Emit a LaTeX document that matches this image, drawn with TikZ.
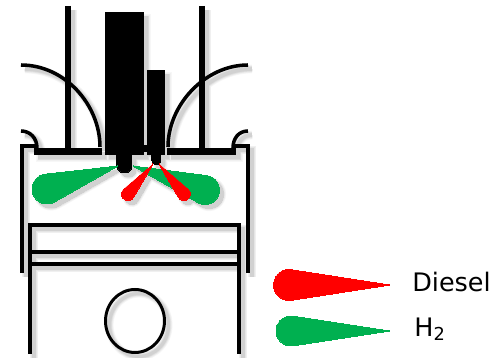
\documentclass[tikz,border=0pt]{standalone}
\usepackage{fontspec}
\setmainfont{DejaVu Sans}
\definecolor{FuelGreen}{HTML}{00B050}
\definecolor{FuelRed}{HTML}{FF0000}
\newcommand{\plume}[6]{%
  \pgfmathsetmacro{\plen}{veclen(#2-#4,#3-#5)}
  \pgfmathsetmacro{\pang}{atan2(#3-#5,#2-#4)}
  \pgfmathsetmacro{\pbeta}{acos(#6/\plen)}
  \draw[#1,shift={(#4,#5)},rotate=\pang] (\plen,0) -- (\pbeta:#6)
    arc[start angle=\pbeta,end angle=360-\pbeta,radius=#6] -- cycle;}
\newcommand{\engine}{%
  % valves and ports
  \draw[stem] (68,352) -- (68,206);
  \draw[stem] (202,352) -- (202,206);
  \draw[wall] (21,293) .. controls (65,293) and (100,253) .. (100,211);
  \draw[wall] (248,293) .. controls (205,293) and (168,253) .. (168,211);
  \draw[wall] (21,227) .. controls (30,227) and (37,220) .. (37,210);
  \draw[wall] (248,227) .. controls (239,227) and (233,220) .. (233,210);
  \draw[solidpart] (35,203) rectangle (102,209);
  \draw[solidpart] (168,203) rectangle (236,209);
  % injectors
  \draw[solidpart] (105.5,203) rectangle (144,345);
  \draw[solidpart] (148,203) rectangle (165,287);
  \draw[solidpart] (144,206) rectangle (148,212);
  \draw[solidpart] (117,206) -- (117,192.5) arc[start angle=180,end angle=360,radius=7.5] -- (132,206) -- cycle;
  \draw[solidpart] (152,206) -- (152,197.5) arc[start angle=180,end angle=360,radius=4.5] -- (161,206) -- cycle;
  % sprays
  \plume{greenplume}{118}{192}{47}{169}{15}
  \plume{greenplume}{133}{192}{205}{168}{14.5}
  \plume{redplume}{153}{194}{128}{164}{6.5}
  \plume{redplume}{159}{194}{184}{164}{6.5}
  % cylinder and piston
  \draw[wall] (22,85) -- (22,212) -- (37,212);
  \draw[wall] (248,85) -- (248,212) -- (233,212);
  \draw[wall] (30,4) -- (30,133) -- (239,133) -- (239,4);
  \draw[wall] (30,106) -- (239,106);
  \draw[wall] (30,94) -- (239,94);
  \draw[pin] (135,37) ellipse[x radius=29.5,y radius=31.5];
}
\begin{document}
\begin{tikzpicture}[
    x=0.02cm, y=0.02cm,
    wall/.style={draw=black, line width=2pt},
    stem/.style={draw=black, line width=3pt},
    pin/.style={draw=black, line width=1.7pt},
    solidpart/.style={draw=black, fill=black, line width=0pt},
    greenplume/.style={draw=FuelGreen, fill=FuelGreen, line width=0pt},
    redplume/.style={draw=FuelRed, fill=FuelRed, line width=0pt},
    label/.style={anchor=west, font=\fontsize{14.5}{17}\selectfont, inner sep=0pt}
  ]
  \useasboundingbox (0,0) rectangle (495,358);
  % soft shadow
  \foreach \extra/\tone in {3pt/black!3, 2.2pt/black!6, 1.4pt/black!10, 0.6pt/black!14, 0pt/black!18}{
    \begin{scope}[shift={(4,-4)},
        wall/.style={draw=\tone, line width=2pt+\extra},
        stem/.style={draw=\tone, line width=3pt+\extra},
        pin/.style={draw=\tone, line width=1.7pt+\extra},
        solidpart/.style={draw=\tone, fill=\tone, line width=\extra},
        greenplume/.style={draw=\tone, fill=\tone, line width=\extra},
        redplume/.style={draw=\tone, fill=\tone, line width=\extra}]
      \engine
    \end{scope}
  }
  \engine
  % legend
  \plume{redplume}{390}{73}{289}{73}{15.5}
  \plume{greenplume}{390}{27}{291}{27}{15}
  \node[label] (diesel) at (412,76) {Diesel};
  \node[label] (hydrogen) at (414,29) {H\textsubscript{2}};
\end{tikzpicture}
\end{document}
